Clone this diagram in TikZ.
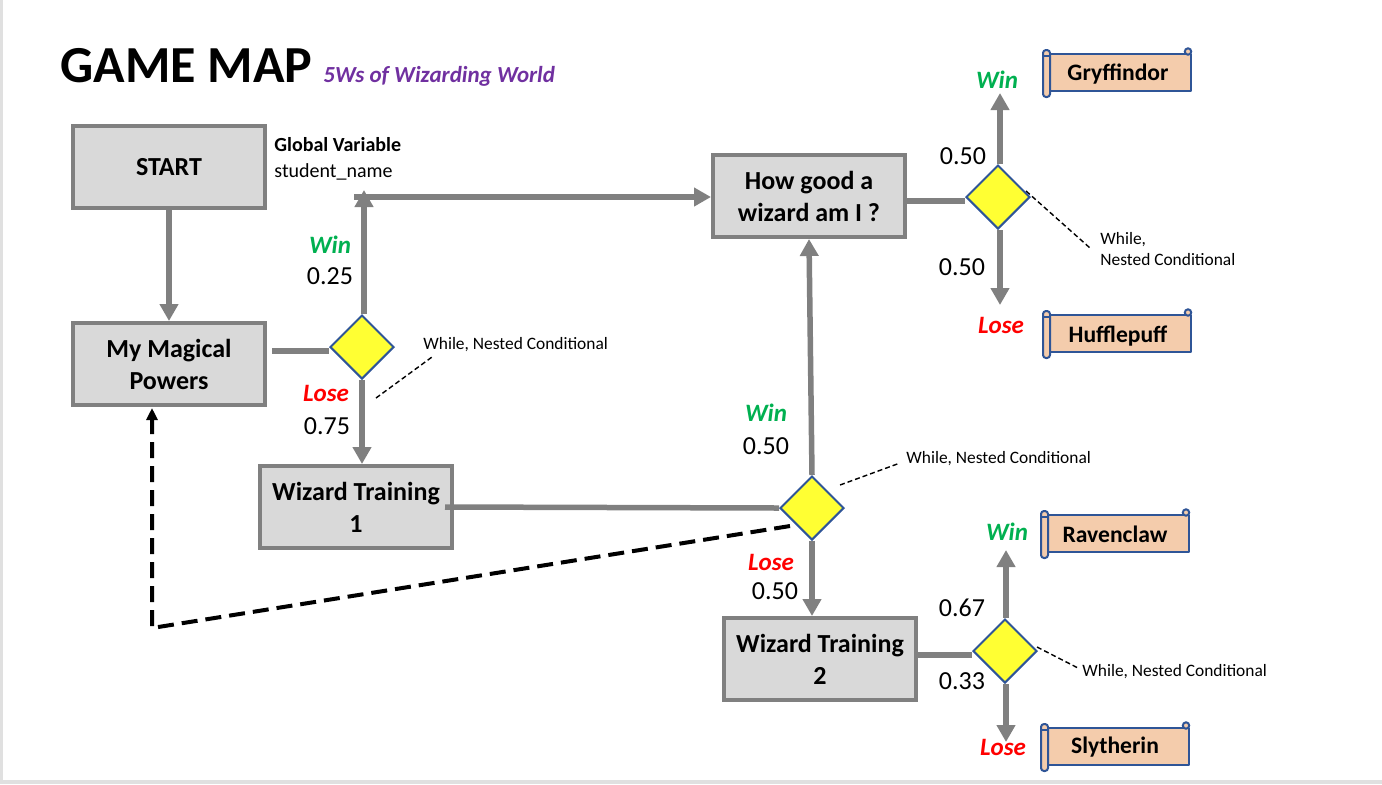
\documentclass[tikz,border=0pt]{standalone}
\usepackage{fontspec}
\setmainfont{Carlito}
\usepackage{tikz}
\usetikzlibrary{arrows.meta,shapes.geometric}
\definecolor{box_fill}{HTML}{D9D9D9}
\definecolor{box_line}{HTML}{808080}
\definecolor{page_edge}{HTML}{E0E0E0}
\definecolor{test_fill}{HTML}{FFFF33}
\definecolor{shape_line}{HTML}{2F5597}
\definecolor{scroll_fill}{HTML}{F4CCAC}
\definecolor{win_green}{HTML}{00B050}
\definecolor{lose_red}{HTML}{FF0000}
\definecolor{title_purple}{HTML}{7030A0}
\tikzset{
	stepbox/.style={
		draw=box_line, fill=box_fill, line width=2pt,
		rectangle, minimum width=96pt, minimum height=41pt,
		inner sep=0pt, align=center, text=black,
		font=\fontsize{13}{16}\selectfont\bfseries
	},
	test/.style={
		draw=shape_line, fill=test_fill, line width=1pt,
		diamond, minimum width=32pt, minimum height=32pt,
		inner sep=0pt
	},
	scroll/.pic={
		\draw[scroll_edge] (7,6) -- (148,6) -- (148,43) -- (7,43) -- cycle;
		\draw[scroll_edge, rounded corners=1.5pt] (0,2) rectangle (7,49);
		\draw[shape_line, line width=1pt, fill=scroll_fill] (145,3.5) circle (1.6pt);
		\draw[shape_line, line width=.6pt] (0,8) -- (7,8);
	},
	scroll_edge/.style={
		draw=shape_line, fill=scroll_fill, line width=1pt,
		line join=round
	},
	scroll_name/.style={font=\fontsize{11.8}{14}\selectfont\bfseries, inner sep=0pt},
	win/.style={font=\fontsize{12.5}{14}\selectfont\bfseries\itshape, text=win_green, inner sep=0pt},
	lose/.style={font=\fontsize{12.5}{14}\selectfont\bfseries\itshape, text=lose_red, inner sep=0pt},
	prob/.style={font=\fontsize{13}{15}\selectfont, inner sep=0pt},
	note/.style={font=\fontsize{8.7}{10.7}\selectfont, inner sep=0pt, anchor=west, align=left},
	flow_arrow/.style={draw=box_line, line width=2.75pt, -{Triangle[length=8.5pt,width=9pt]}},
	flow_line/.style={draw=box_line, line width=2.75pt},
	back_arrow/.style={draw=black, line width=2pt, dash pattern=on 8pt off 4pt, -{Triangle[length=6pt,width=5.5pt]}},
	note_line/.style={draw=black, line width=.7pt, dash pattern=on 2.5pt off 1.5pt}
}

\begin{document}
\begin{tikzpicture}[x=.5pt,y=-.5pt]
	\useasboundingbox (0,0) rectangle (1382,784);
	\fill[page_edge] (0,0) rectangle (3,784);
	\fill[page_edge] (0,780) rectangle (1382,784);

	\node[anchor=west, inner sep=0pt, font=\fontsize{26}{30}\selectfont\bfseries] (title) at (60,66) {GAME MAP};
	\node[anchor=west, inner sep=0pt, text=title_purple, font=\fontsize{11.5}{14}\selectfont\bfseries\itshape] (subtitle) at (323,76) {5Ws of Wizarding World};
	\node[anchor=west, inner sep=0pt, font=\fontsize{10}{12}\selectfont\bfseries] (global) at (274,145) {Global Variable};
	\node[anchor=west, inner sep=0pt, font=\fontsize{10}{12}\selectfont] (student) at (274,172) {student\_name};

	\node[stepbox] (start) at (169,167) {START};
	\node[stepbox] (magic) at (169,364) {My Magical\\Powers};
	\node[stepbox] (train_a) at (356,507) {Wizard Training\\1};
	\node[stepbox] (good) at (809,196) {How good a\\wizard am I ?};
	\node[stepbox] (train_b) at (820,659) {Wizard Training\\2};

	\node[test] (test_a) at (362,347) {};
	\node[test] (test_b) at (812,508) {};
	\node[test] (test_c) at (998,197) {};
	\node[test] (test_d) at (1005,651) {};

	\pic (scroll_g) at (1043,48) {scroll};
	\pic (scroll_h) at (1043,309) {scroll};
	\pic (scroll_r) at (1041,509) {scroll};
	\pic (scroll_s) at (1041,722) {scroll};
	\node[scroll_name] (gryffindor) at (1118,74) {Gryffindor};
	\node[scroll_name] (hufflepuff) at (1118,336) {Hufflepuff};
	\node[scroll_name] (ravenclaw) at (1115,534) {Ravenclaw};
	\node[scroll_name] (slytherin) at (1115,747) {Slytherin};

	\coordinate (magic_out) at (272,351);
	\coordinate (up_end) at (364,190);
	\coordinate (join_in) at (354,197);
	\coordinate (train_out) at (445,507);
	\coordinate (good_out) at (907,201);
	\coordinate (c_up) at (1000,93);
	\coordinate (c_down) at (1000,305);
	\coordinate (b_out) at (917,655);
	\coordinate (d_up) at (1006,550);
	\coordinate (d_down) at (1006,742);
	\coordinate (back_from) at (790,526);
	\coordinate (back_corner) at (152,628);
	\coordinate (back_to) at (152,408);

	\draw[flow_arrow] (start.south) -- (magic.north);
	\draw[flow_line] (magic_out) -- (magic_out -| test_a.west);
	\draw[flow_arrow] (up_end |- test_a.north) -- (up_end);
	\draw[flow_arrow] (join_in) -- (good.west |- join_in);
	\draw[flow_arrow] (test_a.south) -- (test_a.south |- train_a.north);
	\draw[flow_line] (train_out) -- (test_b.west);
	\draw[flow_arrow] (test_b.north) -- (good.south);
	\draw[flow_arrow] (test_b.south) -- (test_b.south |- train_b.north);
	\draw[flow_line] (good_out) -- (good_out -| test_c.west);
	\draw[flow_arrow] (c_up |- test_c.north) -- (c_up);
	\draw[flow_arrow] (c_down |- test_c.south) -- (c_down);
	\draw[flow_line] (b_out) -- (b_out -| test_d.west);
	\draw[flow_arrow] (d_up |- test_d.north) -- (d_up);
	\draw[flow_arrow] (d_down |- test_d.south) -- (d_down);
	\draw[back_arrow] (back_from) -- (back_corner) -- (back_to);

	\node[win] (win_a) at (330,245) {Win};
	\node[prob] (prob_a) at (330,276) {0.25};
	\node[lose] (lose_a) at (326,393) {Lose};
	\node[prob] (prob_b) at (327,426) {0.75};
	\node[win] (win_b) at (766,413) {Win};
	\node[prob] (prob_c) at (766,446) {0.50};
	\node[lose] (lose_b) at (771,562) {Lose};
	\node[prob] (prob_d) at (775,591) {0.50};
	\node[win] (win_c) at (997,80) {Win};
	\node[prob] (prob_e) at (963,156) {0.50};
	\node[prob] (prob_f) at (962,267) {0.50};
	\node[lose] (lose_c) at (1001,325) {Lose};
	\node[win] (win_d) at (1007,532) {Win};
	\node[prob] (prob_g) at (962,608) {0.67};
	\node[prob] (prob_h) at (962,681) {0.33};
	\node[lose] (lose_d) at (1003,747) {Lose};

	\node[note] (note_a) at (423,345) {While, Nested Conditional};
	\node[note] (note_b) at (906,459) {While, Nested Conditional};
	\node[note] (note_c) at (1100,249) {While,\\Nested Conditional};
	\node[note] (note_d) at (1082,672) {While, Nested Conditional};
	\coordinate (note_a_from) at (376,398);
	\coordinate (note_a_to) at (432,357);
	\coordinate (note_b_from) at (840,485);
	\coordinate (note_b_to) at (900,463);
	\coordinate (note_c_from) at (1026,191);
	\coordinate (note_c_to) at (1090,248);
	\coordinate (note_d_from) at (1037,647);
	\coordinate (note_d_to) at (1078,668);
	\draw[note_line] (note_a_from) -- (note_a_to);
	\draw[note_line] (note_b_from) -- (note_b_to);
	\draw[note_line] (note_c_from) -- (note_c_to);
	\draw[note_line] (note_d_from) -- (note_d_to);
\end{tikzpicture}
\end{document}
